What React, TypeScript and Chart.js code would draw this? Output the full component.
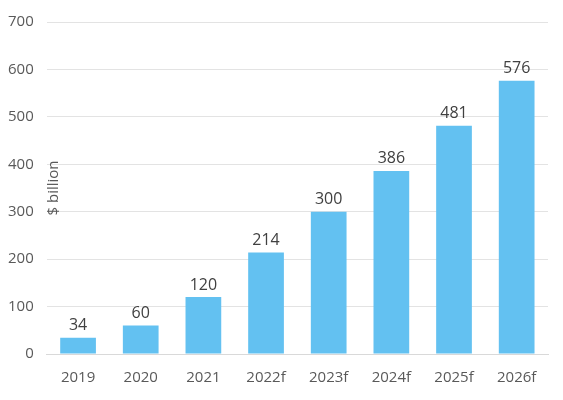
import React, { useEffect, useRef } from "react";
import { Chart, registerables, Plugin } from "chart.js";

Chart.register(...registerables);

const years = ["2019", "2020", "2021", "2022f", "2023f", "2024f", "2025f", "2026f"];
const values = [34, 60, 120, 214, 300, 386, 481, 576];
const yTicks = [0, 100, 200, 300, 400, 500, 600, 700];
const yTitle = "$ billion";

const FONT = "'Open Sans', 'Liberation Sans', sans-serif";
const TEXT = "#595959";

const valueLabels: Plugin = {
  id: "valueLabels",
  afterDatasetsDraw(chart) {
    const ctx = chart.ctx;
    const meta = chart.getDatasetMeta(0);
    ctx.save();
    ctx.font = `16px ${FONT}`;
    ctx.fillStyle = "#404040";
    ctx.textAlign = "center";
    ctx.textBaseline = "bottom";
    meta.data.forEach((bar: any, i: number) => {
      ctx.fillText(String(values[i]), bar.x, bar.y - 4);
    });
    ctx.restore();
  },
};

const innerTitle: Plugin = {
  id: "innerTitle",
  afterDraw(chart) {
    const { ctx, chartArea, scales } = chart;
    ctx.save();
    ctx.font = `15px ${FONT}`;
    ctx.fillStyle = TEXT;
    ctx.textAlign = "center";
    ctx.textBaseline = "middle";
    ctx.translate(chartArea.left + 7, scales.y.getPixelForValue(350));
    ctx.rotate(-Math.PI / 2);
    ctx.fillText(yTitle, 0, 0);
    ctx.restore();
  },
};

const BarChart = () => {
  const chartRef = useRef<HTMLCanvasElement | null>(null);
  const chartInstance = useRef<Chart | null>(null);

  useEffect(() => {
    document.body.style.margin = "0";
    if (chartInstance.current) chartInstance.current.destroy();
    const ctx = chartRef.current?.getContext("2d");
    if (ctx) {
      chartInstance.current = new Chart(ctx, {
        type: "bar",
        data: {
          labels: years,
          datasets: [
            {
              data: values,
              backgroundColor: "#63c1f1",
              barPercentage: 0.57,
              categoryPercentage: 1,
            },
          ],
        },
        options: {
          responsive: false,
          animation: false,
          layout: { padding: { top: 11, right: 15, bottom: -2, left: -5 } },
          plugins: {
            legend: { display: false },
            tooltip: { enabled: false },
          },
          scales: {
            x: {
              grid: { display: false, drawTicks: false },
              border: { color: "#d9d9d9" },
              ticks: { color: TEXT, font: { family: FONT, size: 15 }, padding: 15 },
            },
            y: {
              min: 0,
              max: 700,
              afterBuildTicks: (axis) => {
                axis.ticks = yTicks.map((v) => ({ value: v }));
              },
              grid: { color: "#e3e3e3", drawTicks: false },
              border: { display: false },
              ticks: { color: TEXT, font: { family: FONT, size: 15 }, padding: 13 },
            },
          },
        },
        plugins: [valueLabels, innerTitle],
      });
    }
    return () => {
      if (chartInstance.current) chartInstance.current.destroy();
    };
  }, []);

  return (
    <div style={{ width: 563, height: 400, background: "#fff" }}>
      <canvas ref={chartRef} width={563} height={400}></canvas>
    </div>
  );
};

export default function App() {
  return <BarChart />;
}
